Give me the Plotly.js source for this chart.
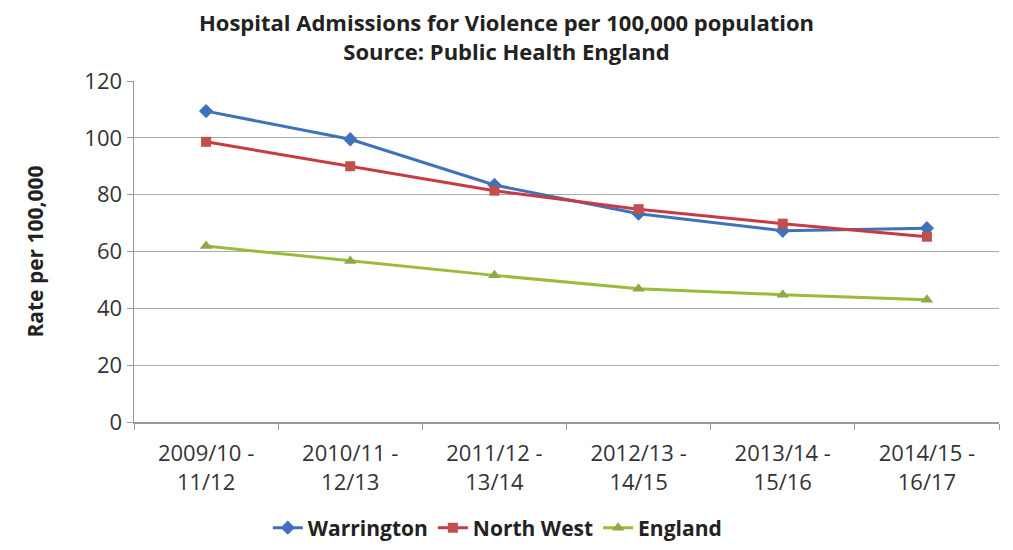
<!DOCTYPE html>
<html><head><meta charset="utf-8">
<script src="https://cdn.plot.ly/plotly-3.0.1.min.js"></script>
<style>body{margin:0;background:#fff}#c{width:1013px;height:550px}</style>
</head><body><div id="c"></div>
<script>
const categories = ["2009/10 -<br>11/12","2010/11 -<br>12/13","2011/12 -<br>13/14","2012/13 -<br>14/15","2013/14 -<br>15/16","2014/15 -<br>16/17"];
const warrington = [109.4, 99.5, 83.4, 73.3, 67.3, 68.2];
const northWest = [98.6, 90.0, 81.4, 74.9, 69.8, 65.2];
const england = [61.9, 56.7, 51.6, 46.9, 44.8, 43.0];
const yTicks = [0, 20, 40, 60, 80, 100, 120];

const font = "Open Sans, Liberation Sans, sans-serif";
const traces = [
  {x: categories, y: warrington, name: "Warrington", type: "scatter", mode: "lines+markers",
   line: {color: "#3F72B8", width: 3}, marker: {symbol: "diamond", size: 11, color: "#3F72B8"}},
  {x: categories, y: northWest, name: "North West", type: "scatter", mode: "lines+markers",
   line: {color: "#C93A45", width: 3}, marker: {symbol: "square", size: 10, color: "#C0504D"}},
  {x: categories, y: england, name: "England", type: "scatter", mode: "lines+markers",
   line: {color: "#9BBB3A", width: 3}, marker: {symbol: "triangle-up", size: 11, color: "#8FAA45"}}
];
const layout = {
  width: 1013, height: 550,
  paper_bgcolor: "#fff", plot_bgcolor: "#fff",
  margin: {l: 134, r: 14, t: 81, b: 128, autoexpand: false},
  title: {text: "<b>Hospital Admissions for Violence per 100,000 population<br>Source: Public Health England</b>",
          font: {family: font, size: 22, color: "#222"}, x: 0.5, xanchor: "center",
          yref: "container", y: 0.943, yanchor: "middle"},
  xaxis: {type: "category", showgrid: false, showline: true, linecolor: "#999", linewidth: 1.5,
          ticks: "outside", ticklen: 6, tickcolor: "#999", tickson: "boundaries", ticklabelstandoff: 11,
          tickfont: {family: font, size: 22, color: "#333"}, range: [-0.5, 5.5]},
  yaxis: {range: [0, 120], tickvals: yTicks, showgrid: true, gridcolor: "#aaa", gridwidth: 1.2,
          showline: true, linecolor: "#999", linewidth: 1.5, ticks: "outside", ticklen: 6, tickcolor: "#999",
          zeroline: false, tickfont: {family: font, size: 22, color: "#333"},
          title: {text: "<b>Rate per 100,000</b>", font: {family: font, size: 21, color: "#222"}, standoff: 35}},
  legend: {orientation: "h", x: 0.42, xanchor: "center", yref: "container", y: 0.04, yanchor: "middle",
           font: {family: font, size: 21, color: "#222", weight: "bold"}, itemwidth: 30, tracegroupgap: 0},
  showlegend: true
};
Plotly.newPlot("c", traces, layout, {displayModeBar: false, staticPlot: true});
</script></body></html>
